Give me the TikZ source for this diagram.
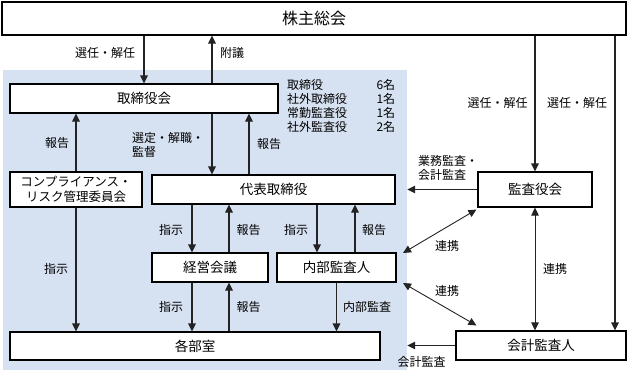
\documentclass[tikz,border=0pt]{standalone}
\usepackage{fontspec}
\setmainfont{Noto Sans CJK JP}
\usetikzlibrary{arrows.meta, positioning, calc}
\definecolor{zoneblue}{RGB}{214,225,241}
\definecolor{linegray}{RGB}{35,35,35}

\begin{document}
\begin{tikzpicture}[x=1pt, y=-1pt,
    box/.style={draw=black, line width=1.1pt, fill=white, inner sep=0pt,
                align=center, font=\fontsize{13.5}{15}\selectfont},
    arr/.style={-{Triangle[length=8pt, width=7.5pt]}, line width=1.1pt, linegray},
    dblarr/.style={{Triangle[length=8pt, width=7.5pt]}-{Triangle[length=8pt, width=7.5pt]},
                   line width=0.9pt, linegray},
    lbl/.style={inner sep=0pt, font=\fontsize{12}{14}\selectfont},
]
\useasboundingbox (0,0) rectangle (628,372);

% company side
\node[fill=zoneblue, inner sep=0pt, minimum width=404pt, minimum height=300pt] (zone) at (205,220) {};
\node[box, minimum width=624pt, minimum height=33pt, font=\fontsize{16}{18}\selectfont] (soukai) at (314,18.5) {株主総会};
\node[box, minimum width=268pt, minimum height=29pt] (torikai) at (144,98.5) {取締役会};
\node[box, minimum width=132pt, minimum height=35pt, font=\fontsize{12.5}{15}\selectfont] (comp) at (76,189.5) {コンプライアンス・\\リスク管理委員会};
\node[box, minimum width=243pt, minimum height=29pt] (daihyo) at (273.5,189.5) {代表取締役};
\node[box, minimum width=116pt, minimum height=29pt] (keiei) at (210,267.5) {経営会議};
\node[box, minimum width=119pt, minimum height=29pt] (naibu) at (336.5,267.5) {内部監査人};
\node[box, minimum width=370pt, minimum height=28pt] (bushitsu) at (195,346) {各部室};
% auditors
\node[box, minimum width=114pt, minimum height=35pt] (kansa) at (535,189.5) {監査役会};
\node[box, minimum width=170pt, minimum height=29pt] (kaikei) at (541,345.5) {会計監査人};

\node[lbl, anchor=west, align=left] (members) at (287,106) {%
  \makebox[108pt]{取締役\hfill 6名}\\
  \makebox[108pt]{社外取締役\hfill 1名}\\
  \makebox[108pt]{常勤監査役\hfill 1名}\\
  \makebox[108pt]{社外監査役\hfill 2名}};

\coordinate (fugi) at ([xshift=68pt]torikai.north);
\coordinate (hou1) at ([xshift=105pt]torikai.south);
\coordinate (kl) at ([xshift=-18pt]keiei.north);
\coordinate (kr) at ([xshift=19pt]keiei.north);
\coordinate (nl) at ([xshift=-19.5pt]naibu.north);
\coordinate (nr) at ([xshift=18.5pt]naibu.north);
\coordinate (ks) at ([xshift=74pt]kaikei.north);
\coordinate (ren1) at (403,253);
\coordinate (ren2) at (403,283);

\draw[arr] (soukai.south -| torikai.north) -- (torikai.north);
\draw[arr] (fugi) -- (fugi |- soukai.south);
\draw[arr] (comp.north) -- (comp.north |- torikai.south);
\draw[arr] (torikai.south -| fugi) -- (daihyo.north -| fugi);
\draw[arr] (daihyo.north -| hou1) -- (hou1);
\draw[arr] (comp.south) -- (comp.south |- bushitsu.north);
\draw[arr] (daihyo.south -| kl) -- (kl);
\draw[arr] (kr) -- (daihyo.south -| kr);
\draw[arr] (keiei.south -| kl) -- (bushitsu.north -| kl);
\draw[arr] (bushitsu.north -| kr) -- (keiei.south -| kr);
\draw[arr] (daihyo.south -| nl) -- (nl);
\draw[arr] (nr) -- (daihyo.south -| nr);
\draw[arr] (naibu.south) -- (bushitsu.north -| naibu.south);
\draw[arr] (soukai.south -| kansa.north) -- (kansa.north);
\draw[arr] (soukai.south -| ks) -- (ks);
\draw[arr] (kansa.west) -- (kansa.west -| zone.east);
\draw[arr] (kaikei.west) -- (kaikei.west -| zone.east);
\draw[dblarr] (kansa.south) -- (kansa.south |- kaikei.north);
\draw[dblarr] ([shift={(-1pt,-2pt)}]kansa.south west) -- (ren1);
\draw[dblarr] (ren2) -- ([shift={(21pt,5pt)}]kaikei.north west);

% labels
\node[lbl] (l-sen1) at (105,53) {選任・解任};
\node[lbl] (l-fugi) at (232,53) {附議};
\node[lbl] (l-hou1) at (57,143) {報告};
\node[lbl, anchor=west, align=left] (l-sentei) at (132,144.5) {選定・解職・\\監督};
\node[lbl] (l-hou2) at (269,144) {報告};
\node[lbl] (l-shiji1) at (56,269) {指示};
\node[lbl] (l-shiji2) at (171,230) {指示};
\node[lbl] (l-hou3) at (248.5,230) {報告};
\node[lbl] (l-shiji3) at (296,230) {指示};
\node[lbl] (l-hou4) at (374,230) {報告};
\node[lbl] (l-shiji4) at (171,307) {指示};
\node[lbl] (l-hou5) at (248.5,307) {報告};
\node[lbl] (l-naibu) at (367,307) {内部監査};
\node[lbl] (l-sen2) at (497.5,103) {選任・解任};
\node[lbl] (l-sen3) at (577,103) {選任・解任};
\node[lbl, anchor=west, align=left] (l-gyomu) at (418,168) {業務監査・\\会計監査};
\node[lbl] (l-ren1) at (447,246) {連携};
\node[lbl] (l-ren2) at (447,291) {連携};
\node[lbl] (l-ren3) at (555,269) {連携};
\node[lbl] (l-kaikei) at (421.5,362) {会計監査};
\end{tikzpicture}
\end{document}
